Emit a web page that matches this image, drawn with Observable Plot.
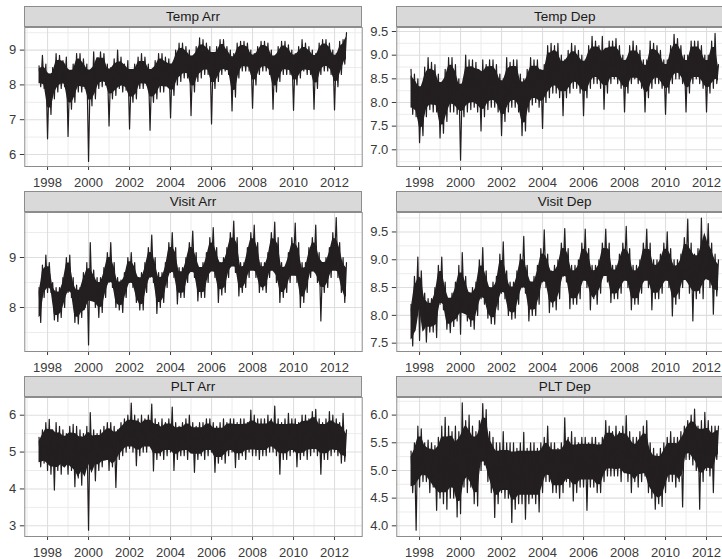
<!DOCTYPE html>
<html><head><meta charset="utf-8">
<script src="https://cdn.jsdelivr.net/npm/d3@7"></script>
<script src="https://cdn.jsdelivr.net/npm/@observablehq/plot@0.6"></script>
<style>
body{margin:0;background:#fff;}
#chart{position:relative;width:722px;height:559px;overflow:hidden;font-family:"Liberation Sans",Arial,Helvetica,sans-serif;}
.strip{position:absolute;box-sizing:border-box;background:#d9d9d9;border:1px solid #8c8c8c;color:#1a1a1a;font-size:13.5px;text-align:center;line-height:19px;white-space:nowrap;}
.cell{position:absolute;}
</style></head><body><div id="chart"></div>
<script>
// Panel titles (facet order: row by row)
const panelTitles = ["Temp Arr", "Temp Dep", "Visit Arr", "Visit Dep", "PLT Arr", "PLT Dep"];

// Time grid: one value per month starting Aug 1997; "hi" values fall on Aug, Oct, Dec, Feb, Apr, Jun,
// "lo" values on Sep, Nov, Jan, Mar, May, Jul (rows = Aug..Jul seasons 1997/98 ... 2011/12)
const startYear = 1997, startMonth = 7;

const tempArrHi = [
8.55,8.85,8.6,8.3,8.5,8.9,
8.85,8.7,8.8,8.4,8.6,8.9,
8.9,8.75,8.6,8.4,8.95,8.7,
8.95,8.9,8.6,8.5,8.75,9.0,
8.8,8.6,8.7,8.3,8.6,8.8,
8.9,8.8,8.6,8.4,8.7,8.9,
8.9,8.8,8.75,8.6,9.0,9.2,
9.2,9.1,9.0,8.8,9.1,9.35,
9.3,9.2,9.1,8.9,9.1,9.3,
9.3,9.1,9.0,8.9,9.2,9.25,
9.25,9.2,9.0,8.9,9.1,9.25,
9.25,9.2,9.0,8.8,9.1,9.25,
9.25,9.15,9.0,8.9,9.1,9.3,
9.2,9.1,9.0,8.9,9.2,9.3,
9.3,9.2,9.0,8.9,9.25,9.3,
9.5];
const tempArrLo = [
7.95,7.9,6.45,7.15,7.6,7.8,
7.9,7.95,6.52,7.3,7.5,7.8,
7.8,7.9,5.8,7.4,7.6,7.9,
7.95,8.0,6.82,7.6,7.7,7.9,
7.8,7.85,6.73,7.5,7.6,7.9,
7.9,8.0,6.7,7.5,7.6,7.8,
7.8,8.0,7.05,7.7,8.0,8.1,
8.2,8.2,7.12,7.8,8.1,8.2,
8.3,8.3,6.88,7.9,8.1,8.3,
8.4,8.3,7.25,7.65,8.2,8.4,
8.4,8.4,7.33,8.0,8.3,8.4,
8.4,8.3,7.3,7.8,8.1,8.3,
8.3,8.3,7.27,8.0,8.2,8.4,
8.3,8.3,7.3,7.9,8.3,8.4,
8.4,8.3,7.28,7.95,8.3,8.6];

const tempDepHi = [
8.7,8.6,8.5,8.0,8.75,8.95,
8.85,8.8,8.6,8.3,8.7,8.95,
8.95,8.8,8.5,8.4,9.0,8.9,
8.9,8.85,8.6,8.9,8.8,8.9,
8.9,8.8,8.6,8.5,8.95,8.85,
8.9,8.9,8.6,8.5,8.7,8.95,
8.9,8.9,8.7,8.8,9.2,9.25,
9.2,9.25,9.0,8.9,9.1,9.25,
9.2,9.1,9.0,8.9,9.2,9.4,
9.3,9.2,9.4,9.0,9.3,9.3,
9.35,9.2,9.0,8.9,9.2,9.3,
9.2,9.1,8.9,8.9,9.3,9.25,
9.2,9.1,8.9,8.9,9.2,9.44,
9.35,9.2,9.0,9.0,9.3,9.3,
9.3,9.2,9.0,9.0,9.3,9.46,
8.8];
const tempDepLo = [
7.75,7.7,7.15,7.3,7.7,7.85,
7.8,7.8,7.25,7.35,7.6,7.8,
7.8,7.75,6.78,7.7,7.8,7.85,
7.9,7.8,7.4,7.7,7.85,7.9,
7.9,7.8,7.3,7.6,7.8,7.9,
7.9,7.8,7.3,7.4,7.8,7.95,
8.0,7.9,7.45,8.0,8.1,8.2,
8.2,8.1,7.72,8.1,8.2,8.3,
8.3,8.2,7.72,8.1,8.3,8.4,
8.4,8.3,7.86,8.2,8.4,8.5,
8.4,8.3,7.8,8.2,8.4,8.5,
8.4,8.3,7.8,8.1,8.3,8.4,
8.4,8.3,7.75,8.2,8.4,8.5,
8.5,8.4,7.8,8.2,8.4,8.5,
8.4,8.3,7.8,8.2,8.3,8.4];

const visitArrHi = [
8.4,8.85,9.05,8.9,8.5,8.4,
8.4,8.6,9.0,9.05,8.6,8.45,
8.4,8.7,8.9,9.3,8.75,8.6,
8.6,8.8,9.1,9.3,8.9,8.6,
8.55,8.7,9.0,9.1,8.9,8.6,
8.7,8.9,9.2,9.45,9.0,8.7,
8.7,8.9,9.3,9.5,9.2,8.8,
8.8,9.0,9.3,9.53,9.1,8.8,
8.9,9.1,9.4,9.6,9.2,8.9,
9.0,9.2,9.5,9.73,9.4,8.9,
8.9,9.2,9.5,9.65,9.3,8.9,
8.9,9.1,9.5,9.71,9.4,8.9,
8.8,9.1,9.4,9.69,9.3,8.9,
8.9,9.2,9.4,9.65,9.1,8.9,
9.0,9.2,9.5,9.8,9.3,9.0,
8.9];
const visitArrLo = [
7.7,8.2,8.3,8.3,7.75,7.72,
7.8,8.0,8.3,8.2,7.7,7.67,
7.8,8.0,7.25,8.2,8.0,7.8,
7.9,8.2,8.5,8.4,8.0,7.95,
7.9,8.2,8.5,8.4,8.1,7.95,
7.95,8.3,8.6,8.5,7.88,8.0,
8.1,8.4,8.7,8.6,8.07,8.2,
8.2,8.5,8.8,8.6,8.13,8.2,
8.2,8.5,8.8,8.6,8.1,8.25,
8.3,8.6,8.9,8.7,8.23,8.3,
8.4,8.6,8.9,8.6,8.3,8.35,
8.3,8.6,8.9,8.5,8.1,8.2,
8.3,8.5,8.9,8.5,8.0,8.1,
8.3,8.6,8.8,8.5,7.73,8.3,
8.4,8.6,8.9,8.6,8.3,8.1];

const visitDepHi = [
8.2,8.7,9.05,8.8,8.4,8.3,
8.3,8.5,8.9,9.05,8.6,8.3,
8.4,8.6,8.9,9.13,8.7,8.4,
8.5,8.6,9.0,9.22,8.8,8.5,
8.6,8.7,9.1,9.32,8.8,8.6,
8.6,8.8,9.1,9.42,8.9,8.6,
8.7,8.9,9.2,9.54,9.1,8.8,
8.9,9.0,9.3,9.56,9.2,8.9,
8.9,9.0,9.3,9.55,9.2,8.9,
8.9,9.0,9.3,9.55,9.3,8.9,
8.9,9.1,9.3,9.6,9.2,8.9,
8.9,9.0,9.3,9.55,9.3,9.0,
9.0,9.1,9.3,9.5,9.2,9.0,
9.0,9.1,9.4,9.73,9.3,9.1,
9.2,9.75,9.4,9.65,9.3,9.1,
9.0];
const visitDepLo = [
7.45,8.1,7.55,8.0,7.52,7.7,
7.7,7.6,8.2,8.1,7.75,7.69,
7.8,7.9,7.66,8.2,7.9,7.8,
7.75,8.0,8.3,8.2,7.95,7.85,
7.84,8.1,8.4,8.3,8.0,7.93,
7.95,8.2,8.5,8.4,7.9,8.0,
8.0,8.2,8.6,8.5,8.05,8.15,
8.1,8.3,8.7,8.6,8.12,8.2,
8.2,8.3,8.7,8.5,8.1,8.3,
8.2,8.4,8.8,8.6,8.23,8.3,
8.3,8.4,8.8,8.5,8.1,8.2,
8.2,8.4,8.8,8.5,8.1,8.3,
8.3,8.4,8.7,8.5,7.99,8.2,
8.3,8.5,8.8,8.4,7.9,8.3,
8.4,8.3,8.8,8.5,8.02,8.35];

const pltArrHi = [
5.4,5.6,5.8,5.89,5.6,5.8,
5.7,5.6,5.5,5.7,5.75,5.7,
5.6,5.5,5.7,6.07,5.6,5.5,
5.6,5.7,5.8,5.8,5.7,5.6,
5.8,5.9,6.0,6.33,6.0,5.9,
6.0,5.9,6.0,6.3,5.9,5.8,
5.9,5.8,5.9,6.22,5.8,5.7,
5.8,5.9,6.0,5.8,5.7,5.8,
5.8,5.9,5.9,5.8,5.7,5.8,
5.9,5.8,5.9,5.9,5.8,5.9,
5.9,5.8,6.14,6.0,5.9,5.9,
5.9,6.0,5.9,6.25,5.9,5.8,
5.9,6.05,5.9,5.9,5.8,6.0,
6.0,5.9,6.1,6.16,5.9,5.8,
5.9,6.1,6.0,5.9,5.8,6.05,
5.6];
const pltArrLo = [
4.6,4.7,4.5,4.4,3.97,4.5,
4.4,4.6,4.4,4.5,4.06,4.3,
4.1,4.5,2.88,4.6,4.22,4.5,
4.6,4.8,4.5,4.6,4.04,4.8,
4.9,5.0,5.1,5.0,4.63,4.9,
5.0,5.0,5.2,4.49,4.8,4.9,
4.8,4.9,5.0,4.5,4.8,4.9,
4.9,4.8,5.0,4.45,4.8,4.9,
4.8,4.9,5.0,4.45,4.7,4.8,
4.7,4.9,5.0,4.58,4.8,4.9,
4.8,5.0,4.9,4.9,4.8,4.9,
4.9,5.0,5.0,4.9,4.4,4.8,
4.8,4.9,5.0,4.6,4.8,4.9,
4.8,4.9,5.0,4.9,4.4,4.8,
4.8,4.9,5.0,4.9,4.7,4.75];

const pltDepHi = [
5.35,5.5,5.8,5.75,5.5,5.55,
5.5,5.45,5.6,5.8,5.96,5.8,
5.7,5.8,5.7,6.22,5.9,6.0,
5.8,5.7,5.9,6.21,6.1,5.7,
5.6,5.5,5.5,5.7,5.5,5.5,
5.5,5.4,5.5,5.69,5.4,5.5,
5.5,5.4,5.5,5.6,5.8,5.5,
5.5,5.4,5.5,5.95,5.6,5.7,
5.6,5.5,5.6,5.6,5.5,5.6,
5.6,5.5,5.6,5.9,5.8,5.7,
5.8,5.7,5.8,5.99,5.7,5.6,
5.6,5.7,5.8,5.9,5.5,5.4,
5.3,5.4,5.5,5.6,5.7,5.6,
5.6,5.7,5.8,5.9,6.0,6.11,
5.8,5.9,6.05,5.9,5.8,5.8,
5.8];
const pltDepLo = [
4.6,3.92,4.7,4.8,4.8,4.6,
4.7,4.28,4.5,4.4,4.3,4.5,
4.5,4.16,4.22,4.7,4.6,4.7,
4.4,4.36,5.0,5.1,4.8,4.6,
4.15,4.4,4.6,4.5,4.5,4.06,
4.3,4.4,4.4,4.12,4.4,4.5,
4.4,4.25,4.6,4.8,4.8,4.6,
4.6,4.5,4.6,4.8,4.7,4.45,
4.6,4.7,4.7,4.28,4.7,4.7,
4.6,4.6,4.8,4.9,4.9,4.9,
4.9,4.8,5.0,4.8,4.6,4.8,
4.7,4.8,4.9,4.6,4.5,4.3,
4.4,4.35,4.6,4.8,4.8,4.7,
4.8,4.34,5.2,5.2,5.1,5.0,
4.3,4.8,5.0,4.9,4.6,5.2];

// Axis ticks
const xMajorTicks = [1998, 2000, 2002, 2004, 2006, 2008, 2010, 2012];
const xMinorTicks = [1997, 1999, 2001, 2003, 2005, 2007, 2009, 2011, 2013];
const xDomain = [1996.89, 2013.35];

const yDomains = [[5.655, 9.65], [6.647, 9.585], [7.12, 9.9], [7.35, 9.85], [2.71, 6.48], [3.807, 6.318]];
const yMajorTicks = [[6, 7, 8, 9], [7.0, 7.5, 8.0, 8.5, 9.0, 9.5], [8, 9], [7.5, 8.0, 8.5, 9.0, 9.5], [3, 4, 5, 6], [4.0, 4.5, 5.0, 5.5, 6.0]];
const yMinorTicks = [[6.5, 7.5, 8.5, 9.5], [6.75, 7.25, 7.75, 8.25, 8.75, 9.25], [7.5, 8.5, 9.5], [7.75, 8.25, 8.75, 9.25, 9.75], [3.5, 4.5, 5.5], [4.25, 4.75, 5.25, 5.75, 6.25]];
const yTickDecimals = [0, 1, 0, 1, 0, 1];

const seriesHi = [tempArrHi, tempDepHi, visitArrHi, visitDepHi, pltArrHi, pltDepHi];
const seriesLo = [tempArrLo, tempDepLo, visitArrLo, visitDepLo, pltArrLo, pltDepLo];

const tHi = j => startYear + (startMonth + 2 * j) / 12;
const tLo = j => startYear + (startMonth + 1 + 2 * j) / 12;

// The line itself: hi and lo readings interleaved month by month
function buildSeries(hi, lo) {
  const out = [];
  for (let j = 0; j < hi.length; j++) {
    out.push({t: tHi(j), v: hi[j]});
    if (j < lo.length) out.push({t: tLo(j), v: lo[j]});
  }
  return out;
}
// The dense core of the trace: running median of 3 neighbouring readings (drops isolated spikes)
function med3(a, j) {
  const i0 = Math.max(0, j - 1), i2 = Math.min(a.length - 1, j + 1);
  return [a[i0], a[j], a[i2]].sort((x, y) => x - y)[1];
}
function buildCore(hi, lo) {
  const out = [];
  const inset = 0.14;
  for (let j = 0; j < hi.length; j++) {
    const u = med3(hi, j);
    const la = lo[Math.max(0, j - 1)] !== undefined ? med3(lo, Math.max(0, j - 1)) : med3(lo, lo.length - 1);
    const lb = j < lo.length ? med3(lo, j) : med3(lo, lo.length - 1);
    const l = (la + lb) / 2;
    out.push({t: tHi(j), y1: l + inset * (u - l), y2: u - inset * (u - l)});
    if (j < lo.length) {
      const l2 = med3(lo, j);
      const u2 = (med3(hi, j) + med3(hi, Math.min(hi.length - 1, j + 1))) / 2;
      out.push({t: tLo(j), y1: l2 + inset * (u2 - l2), y2: u2 - inset * (u2 - l2)});
    }
  }
  return out;
}

const chart = document.getElementById("chart");
const rowTops = [0, 185, 370];
const colLefts = [0, 371.7];
const mLeft = 24.3, panelW = 337.4, panelH = 139, mBottom = 30;

panelTitles.forEach((title, i) => {
  const col = i % 2, row = Math.floor(i / 2);
  const cellLeft = colLefts[col], rowTop = rowTops[row];
  const frameTop = rowTop + 26.7;

  const strip = document.createElement("div");
  strip.className = "strip";
  strip.style.left = (cellLeft + mLeft) + "px";
  strip.style.top = (rowTop + 6) + "px";
  strip.style.width = panelW + "px";
  strip.style.height = "21.2px";
  strip.textContent = title;

  const data = buildSeries(seriesHi[i], seriesLo[i]);
  const core = buildCore(seriesHi[i], seriesLo[i]);
  const fmt = yTickDecimals[i] ? d3.format(".1f") : (d => String(d));

  const svg = Plot.plot({
    width: mLeft + panelW + 0.3,
    height: panelH + 1 + mBottom,
    marginLeft: mLeft, marginRight: 0.3, marginTop: 1, marginBottom: mBottom,
    style: {fontFamily: "'Liberation Sans', Arial, Helvetica, sans-serif", fontSize: "13px", color: "#3a3a3a", background: "transparent", overflow: "visible"},
    x: {domain: xDomain, ticks: xMajorTicks, tickFormat: d => String(d), tickSize: 4, tickPadding: 7, label: null},
    y: {domain: yDomains[i], ticks: yMajorTicks[i], tickFormat: fmt, tickSize: 4.5, tickPadding: 4, label: null},
    marks: [
      Plot.gridX(xMinorTicks, {stroke: "#ececec", strokeOpacity: 1, strokeWidth: 1}),
      Plot.gridY(yMinorTicks[i], {stroke: "#ececec", strokeOpacity: 1, strokeWidth: 1}),
      Plot.gridX(xMajorTicks, {stroke: "#dedede", strokeOpacity: 1, strokeWidth: 1.1}),
      Plot.gridY(yMajorTicks[i], {stroke: "#dedede", strokeOpacity: 1, strokeWidth: 1.1}),
      Plot.areaY(core, {x: "t", y1: "y1", y2: "y2", fill: "#231f20"}),
      Plot.line(data, {x: "t", y: "v", stroke: "#231f20", strokeWidth: 1.2}),
      Plot.frame({stroke: "#8c8c8c"})
    ]
  });
  svg.classList.add("cell");
  svg.style.left = cellLeft + "px";
  svg.style.top = (frameTop - 1) + "px";
  chart.appendChild(svg);
  chart.appendChild(strip);
});
</script></body></html>
